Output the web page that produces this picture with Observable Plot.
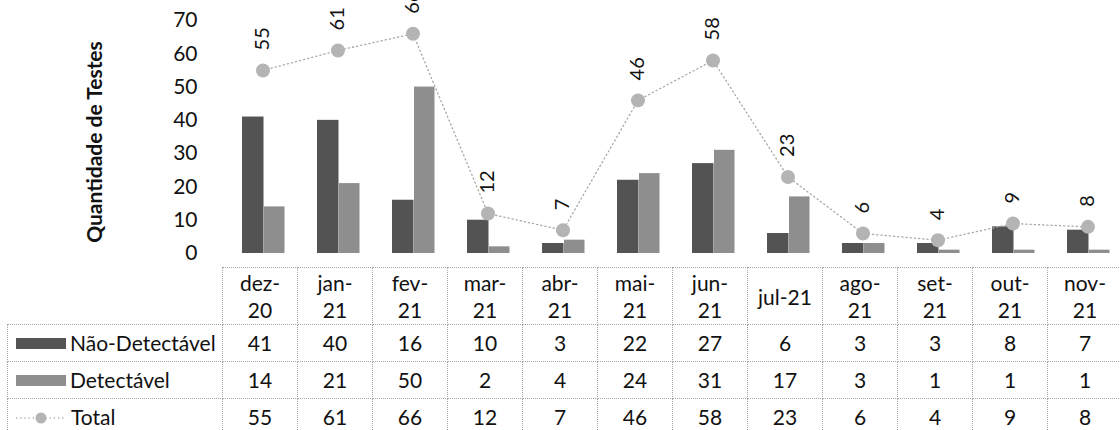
<!DOCTYPE html>
<html><head><meta charset="utf-8">
<script src="https://cdn.jsdelivr.net/npm/d3@7"></script>
<script src="https://cdn.jsdelivr.net/npm/@observablehq/plot@0.6"></script>
<style>
html,body{margin:0;padding:0;background:#fff;}
#wrap{position:relative;width:1120px;height:430px;overflow:hidden;font-family:Lato, sans-serif;color:#111;}
#chart svg{display:block;overflow:hidden;}
#tbl table{border-collapse:collapse;table-layout:fixed;position:absolute;left:7px;top:267px;font-size:21px;font-family:Lato, sans-serif;color:#111;}
#tbl td{border:1px dotted #a8a8a8;text-align:center;padding:0;white-space:pre-line;}
#tbl tr.hdr td{height:56px;line-height:27px;}
#tbl tr.row td{height:36px;line-height:22px;}
#tbl td.blank{border-top-style:hidden;border-left-style:hidden;}
#tbl td.lab{text-align:left;padding-left:8px;white-space:nowrap;}
.sw{display:inline-block;width:50px;height:11px;vertical-align:middle;margin-right:4px;position:relative;top:-2px;}
.swsvg{display:inline-block;vertical-align:middle;margin-right:5px;position:relative;top:-2px;}
</style></head>
<body><div id="wrap"><div id="chart"></div><div id="tbl"></div></div>
<script>
const months = ["dez-20","jan-21","fev-21","mar-21","abr-21","mai-21","jun-21","jul-21","ago-21","set-21","out-21","nov-21"];
const monthLabels = ["dez-\n20","jan-\n21","fev-\n21","mar-\n21","abr-\n21","mai-\n21","jun-\n21","jul-21","ago-\n21","set-\n21","out-\n21","nov-\n21"];
const naoDetectavel = [41,40,16,10,3,22,27,6,3,3,8,7];
const detectavel = [14,21,50,2,4,24,31,17,3,1,1,1];
const total = [55,61,66,12,7,46,58,23,6,4,9,8];
const yTicks = [0,10,20,30,40,50,60,70];
const seriesNames = ["Não-Detectável","Detectável","Total"];
const yTitle = "Quantidade de Testes";

const darkColor = "#535353";
const lightColor = "#8e8e8e";
const dotColor = "#b4b4b4";
const lineColor = "#a8a8a8";

const rows = months.map((m,i)=>({month:m, nd:naoDetectavel[i], det:detectavel[i], total:total[i]}));

const step = 906/12;
const plot = Plot.plot({
  width: 1120, height: 267,
  marginTop: 20, marginBottom: 14, marginLeft: 222, marginRight: 0,
  x: {type:"band", domain: months, range:[222, 1128], padding:0, axis:null},
  y: {domain:[0,70], range:[253,20]},
  style: {fontFamily:"Lato, sans-serif", fontSize:"21px", color:"#111", background:"white", overflow:"hidden"},
  marks: [
    Plot.axisY({ticks: yTicks, tickSize:0, tickPadding:25, label:null, fontSize:21}),
    Plot.text([yTitle], {frameAnchor:"left", textAnchor:"middle", lineAnchor:"middle", rotate:-90, dx:-127, dy:5, fontWeight:"bold", fontSize:21}),
    Plot.barY(rows, {x:"month", y:"nd", fill:darkColor, insetLeft:17, insetRight:step-39}),
    Plot.barY(rows, {x:"month", y:"det", fill:lightColor, insetLeft:39, insetRight:step-60}),
    Plot.line(rows, {x:"month", y:"total", stroke:lineColor, strokeWidth:1.3, strokeDasharray:"1.2 3"}),
    Plot.dot(rows, {x:"month", y:"total", r:7, fill:dotColor, stroke:"none"}),
    Plot.text(rows, {x:"month", y:"total", text:d=>String(d.total), rotate:-90, textAnchor:"start", lineAnchor:"middle", dy:-20, fontSize:20, fill:"#111"})
  ]
});
document.getElementById("chart").appendChild(plot);

// data table below the chart, aligned to the x scale
const xs = plot.scale("x");
const colW = xs.step || xs.bandwidth;
const firstW = xs.range[0] - 7;
const table = d3.select("#tbl").append("table").style("width", (firstW + colW*months.length) + "px");
const cg = table.append("colgroup");
cg.append("col").style("width", firstW + "px");
months.forEach(()=>cg.append("col").style("width", colW + "px"));
const hdr = table.append("tr").attr("class","hdr");
hdr.append("td").attr("class","blank");
monthLabels.forEach(l=>hdr.append("td").text(l));
const seriesVals = [naoDetectavel, detectavel, total];
const swColors = [darkColor, lightColor, null];
seriesNames.forEach((name, k)=>{
  const tr = table.append("tr").attr("class","row");
  const lab = tr.append("td").attr("class","lab");
  if (swColors[k]) {
    lab.append("span").attr("class","sw").style("background", swColors[k]);
  } else {
    const s = lab.append("svg").attr("class","swsvg").attr("width",50).attr("height",14);
    s.append("line").attr("x1",0).attr("x2",50).attr("y1",7).attr("y2",7).attr("stroke",lineColor).attr("stroke-width",1.3).attr("stroke-dasharray","1.2 3");
    s.append("circle").attr("cx",25).attr("cy",7).attr("r",5.5).attr("fill",dotColor);
  }
  lab.append("span").text(name);
  seriesVals[k].forEach(v=>tr.append("td").text(v));
});
</script>
</body></html>
